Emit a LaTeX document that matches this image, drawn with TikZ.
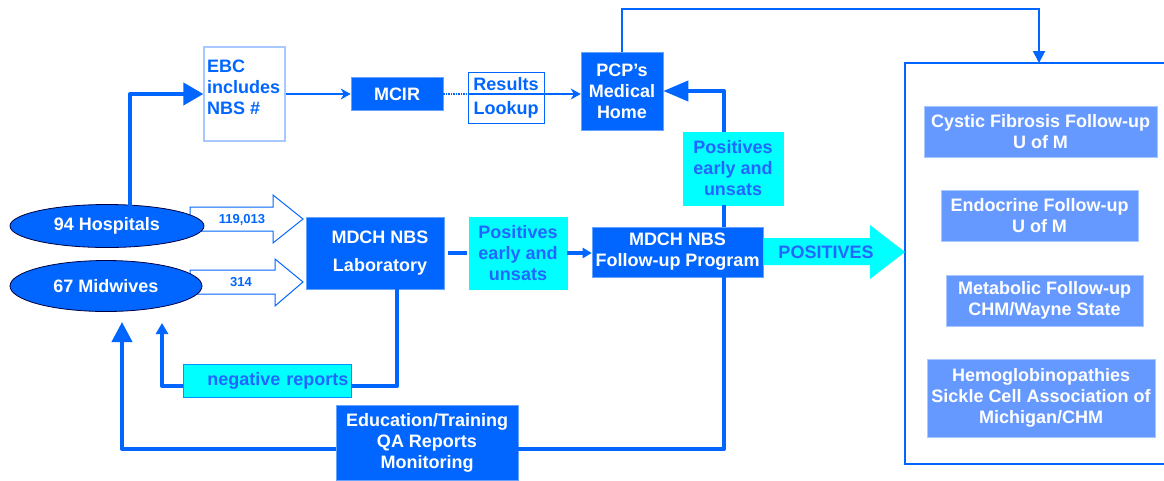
\documentclass[tikz,border=0pt]{standalone}
\usepackage{fontspec}
\setmainfont{Liberation Sans}
\usetikzlibrary{arrows.meta,shapes.geometric}
\definecolor{mblue}{HTML}{0066FF}
\definecolor{lblue}{HTML}{6699FF}
\definecolor{pblue}{HTML}{A8C8FF}
\definecolor{cyanc}{HTML}{00FFFF}
\definecolor{tblue}{HTML}{2266FF}
\begin{document}
\begin{tikzpicture}[x=1pt,y=-1pt,
  font=\fontsize{18}{21}\selectfont\bfseries,
  box/.style={fill=mblue, draw=mblue!60!white, line width=0.6pt, text=white, align=center, inner sep=0pt},
  cybox/.style={fill=cyanc, draw=cyanc, text=tblue, align=center, inner sep=0pt},
  fubox/.style={fill=lblue, draw=pblue, line width=0.6pt, text=white, align=center, inner sep=0pt},
  oval/.style={ellipse, fill=mblue, draw=black!75!blue, line width=0.8pt, text=white, inner sep=0pt},
  blockarrow/.style={fill=white, draw=mblue, line width=1pt, line join=miter},
  conn/.style={draw=mblue, line width=4pt},
  connm/.style={draw=mblue, line width=2.5pt},
  conns/.style={draw=mblue, line width=2pt},
  small/.style={font=\fontsize{13}{13}\selectfont\bfseries, text=mblue, inner sep=0pt}
]
\useasboundingbox (0,0) rectangle (1164,480);

% block arrows from hospitals / midwives
\path[blockarrow] (190,207) -- (273,207) -- (273,195) -- (303,219) -- (273,243) -- (273,231) -- (190,231) -- cycle;
\path[blockarrow] (190,270) -- (275,270) -- (275,259) -- (303,282) -- (275,306) -- (275,294) -- (190,294) -- cycle;

% nodes
\node[oval, minimum width=194pt, minimum height=43pt] (hosp) at (107,226) {94 Hospitals};
\node[oval, minimum width=192pt, minimum height=51pt] (mid) at (106,286) {67 Midwives};
\node[small] (n1) at (242,220) {119,013};
\node[small] (n2) at (241,282) {314};

\node[draw=pblue, line width=1.2pt, fill=white, minimum width=81pt, minimum height=94pt, inner sep=0pt] (ebc) at (244.5,94) {};
\node[anchor=north west, text=mblue, align=left, inner sep=0pt] (ebct) at (207,60) {EBC\\includes\\NBS \#};

\node[box, minimum width=92pt, minimum height=33pt] (mcir) at (397,94) {MCIR};
\node[draw=mblue, line width=1pt, fill=white, text=mblue, align=center, inner sep=0pt, minimum width=76pt, minimum height=51pt] (res) at (506,97.5) {Results\\[3pt]Lookup};
\node[box, minimum width=82pt, minimum height=78pt] (pcp) at (622,91) {PCP’s\\Medical\\Home};

\node[box, minimum width=138pt, minimum height=72pt] (lab) at (375,253) {\hspace*{10pt}MDCH NBS\\[7pt]\hspace*{10pt}Laboratory};
\node[cybox, minimum width=98pt, minimum height=72pt] (pos1) at (518,253) {Positives\\early and\\unsats};
\node[box, minimum width=171pt, minimum height=50pt] (fup) at (677.5,252) {MDCH NBS\\Follow-up Program};
\node[cybox, minimum width=100pt, minimum height=73pt] (pos2) at (733,168.5) {Positives\\early and\\unsats};

\node[cybox, draw=mblue!70!cyanc, line width=0.8pt, minimum width=168pt, minimum height=33pt, text width=163pt, align=right] (neg) at (267,380.5) {negative reports};
\node[box, minimum width=182pt, minimum height=75pt] (edu) at (427,443) {Education/Training\\QA Reports\\Monitoring};

% follow-up container
\draw[mblue, line width=2pt] (1170,63) -| (905,464) -- (1170,464);
\coordinate (fbt) at (1039,63);
\coordinate (fbl) at (905,252);
\node[fubox, minimum width=233pt, minimum height=51pt] (rb1) at (1040.5,131.5) {Cystic Fibrosis Follow-up\\U of M};
\node[fubox, minimum width=197pt, minimum height=51pt] (rb2) at (1039.5,215.5) {Endocrine Follow-up\\U of M};
\node[fubox, minimum width=197pt, minimum height=51pt] (rb3) at (1044.5,300.5) {Metabolic Follow-up\\CHM/Wayne State};
\node[fubox, minimum width=228pt, minimum height=78pt] (rb4) at (1041,398) {Hemoglobinopathies\\Sickle Cell Association of\\Michigan/CHM};

% POSITIVES block arrow
\fill[cyanc] (fup.east |- 0,238) -- (870,238) -- (870,225) -- (fbl) -- (870,279) -- (870,265) -- (fup.east |- 0,265) -- cycle;
\node[text=tblue, inner sep=0pt] (posl) at (826,252) {POSITIVES};

% helper coordinates
\coordinate (vx) at (724,0);
\coordinate (yb) at (0,449);
\coordinate (lt) at (122,322);
\coordinate (lx) at (397,0);
\coordinate (yn) at (0,386);
\coordinate (nt) at (162,323);

% connectors
\draw[conn, line join=round, -{Triangle[length=20pt,width=22pt]}] ([xshift=23pt,yshift=-3pt]hosp.north) |- (ebc.west);
\draw[connm, -{Stealth[length=10pt,width=11pt]}] (ebc.east) -- (mcir.west);
\draw[mblue, line width=1.5pt, densely dotted] (mcir.east) -- (mcir.east -| res.west);
\draw[connm, -{Stealth[length=10pt,width=11pt]}] (mcir.east -| res.west) -- (mcir.east -| pcp.west);
\draw[conns, -{Triangle[length=12pt,width=12pt]}] (pcp.north) -- ++(0,-43) -| (fbt);

\draw[conn] (fup.north -| vx) -- (pos2.south -| vx);
\draw[conn, line join=round, -{Triangle[length=25pt,width=20pt]}] (pos2.north -| vx) |- (pcp.east);
\draw[conn, line join=round] (fup.south -| vx) |- (edu.east |- yb);
\draw[conn, line join=round, -{Triangle[length=20pt,width=20pt]}] (edu.west |- yb) -| (lt);

\draw[conn, line join=round] (lab.south -| lx) |- (neg.east |- yn);
\draw[conn, line join=round, -{Triangle[length=11pt,width=12pt]}] (neg.west |- yn) -| (nt);

\draw[conn, shorten <=4pt, shorten >=2pt] (lab.east) -- (pos1.west);
\draw[conn, -{Triangle[length=9pt,width=10pt]}] (pos1.east) -- (fup.west |- pos1.east);
\end{tikzpicture}
\end{document}
